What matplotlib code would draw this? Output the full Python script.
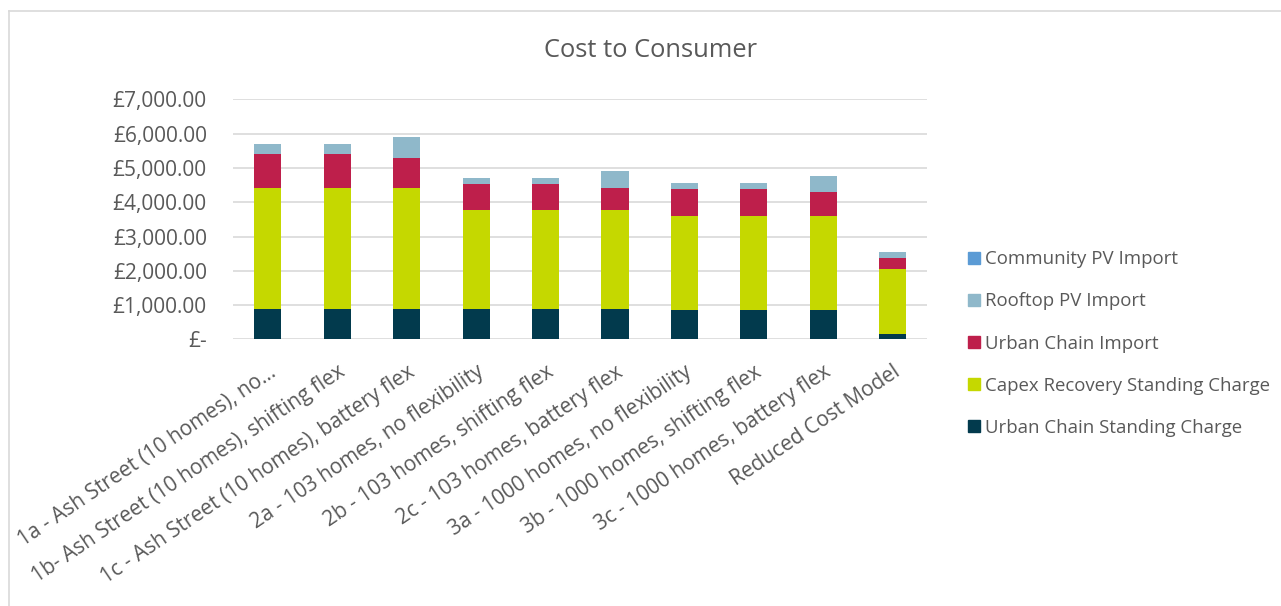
import matplotlib
matplotlib.use("Agg")
import matplotlib.pyplot as plt
from matplotlib.ticker import FuncFormatter, MultipleLocator
from matplotlib.lines import Line2D
import numpy as np

plt.rcParams['font.family'] = ['Open Sans', 'DejaVu Sans']

scenarios = [
    "1a - Ash Street (10 homes), no...",
    "1b- Ash Street (10 homes), shifting flex",
    "1c - Ash Street (10 homes), battery flex",
    "2a - 103 homes, no flexibility",
    "2b - 103 homes, shifting flex",
    "2c - 103 homes, battery flex",
    "3a - 1000 homes, no flexibility",
    "3b - 1000 homes, shifting flex",
    "3c - 1000 homes, battery flex",
    "Reduced Cost Model",
]

# cost components, £ per consumer (bottom to top of each stack)
uc_standing = [875, 875, 875, 875, 875, 875, 870, 870, 870, 165]
capex_standing = [3535, 3535, 3535, 2905, 2905, 2905, 2730, 2730, 2730, 1895]
uc_import = [1000, 1000, 890, 760, 740, 640, 780, 780, 690, 320]
rooftop_pv = [290, 290, 610, 160, 180, 490, 170, 170, 470, 170]
community_pv = [0, 0, 0, 0, 0, 0, 0, 0, 0, 0]

series = [
    ("Urban Chain Standing Charge", uc_standing, "#023a4d"),
    ("Capex Recovery Standing Charge", capex_standing, "#c5d800"),
    ("Urban Chain Import", uc_import, "#be1f4b"),
    ("Rooftop PV Import", rooftop_pv, "#8fb8ca"),
    ("Community PV Import", community_pv, "#5b9bd5"),
]

txt = "#595959"
fig = plt.figure(figsize=(12.81, 6.06), dpi=100)
ax = fig.add_axes([0.182, 0.440, 0.542, 0.396])

x = np.arange(len(scenarios))
bottom = np.zeros(len(scenarios))
handles = []
for name, vals, col in series:
    ax.bar(x, vals, width=0.39, bottom=bottom, color=col, zorder=3)
    bottom += np.array(vals)
    handles.append(Line2D([], [], marker="s", linestyle="none", markersize=9,
                          markerfacecolor=col, markeredgecolor=col, label=name))

ax.set_xlim(-0.5, len(scenarios) - 0.5)
ax.set_ylim(0, 7000)
ax.yaxis.set_major_locator(MultipleLocator(1000))
ax.yaxis.set_major_formatter(FuncFormatter(lambda v, p: "£-" if v == 0 else f"£{v:,.2f}"))
ax.grid(axis="y", color="#d9d9d9", linewidth=1.2, zorder=0)
for s in ax.spines.values():
    s.set_visible(False)
ax.tick_params(length=0, colors=txt)
ax.tick_params(axis="y", pad=19, labelsize=15)
ax.set_xticks(x)
ax.set_xticklabels(scenarios, rotation=34, ha="right", rotation_mode="anchor")
ax.tick_params(axis="x", pad=16, labelsize=15)

fig.text(0.508, 0.917, "Cost to Consumer", ha="center", va="center",
         fontsize=18.4, color=txt)

leg = fig.legend(handles=handles[::-1], loc="center left",
                 bbox_to_anchor=(0.740, 0.433), frameon=False,
                 fontsize=13.4, labelspacing=1.3, handletextpad=0.1,
                 handlelength=1.0)
for t in leg.get_texts():
    t.set_color(txt)

# chart area border
fig.add_artist(Line2D([9 / 1281, 9 / 1281], [0, 1 - 10.5 / 606], color="#d9d9d9", linewidth=1.2))
fig.add_artist(Line2D([9 / 1281, 1], [1 - 10.5 / 606, 1 - 10.5 / 606], color="#d9d9d9", linewidth=1.2))

fig.savefig("out.png", dpi=100)
